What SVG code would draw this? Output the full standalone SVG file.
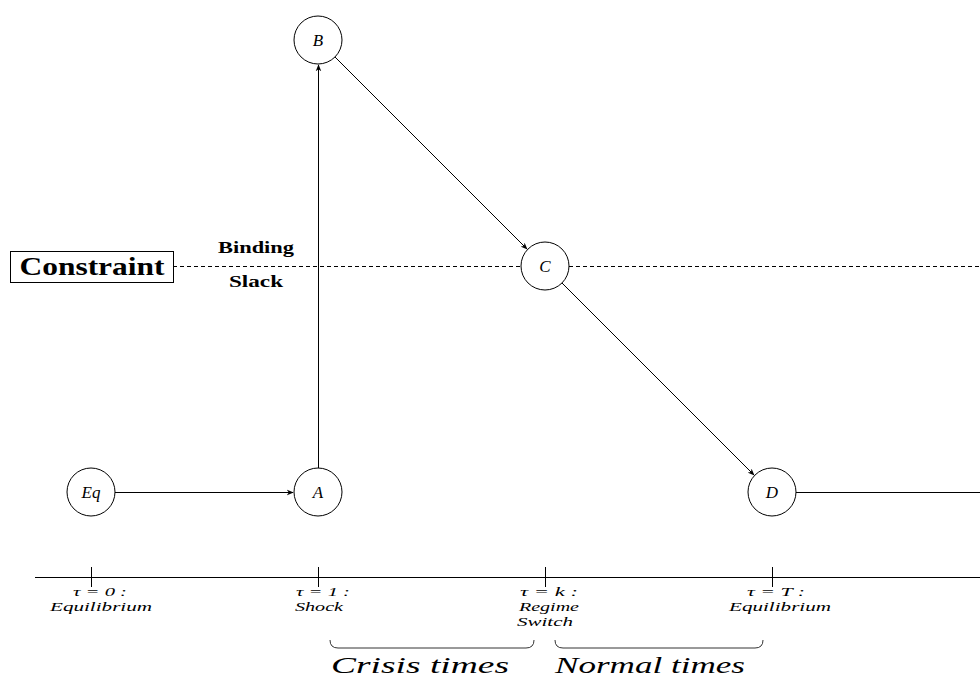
<svg xmlns="http://www.w3.org/2000/svg" width="980" height="679" viewBox="0 0 980 679">
<defs>
<marker id="ah" viewBox="0 0 10 10" refX="9" refY="5" markerWidth="7" markerHeight="7" orient="auto" markerUnits="userSpaceOnUse">
<path d="M0,1 L10,5 L0,9 L3,5 Z" fill="#000"/>
</marker>
</defs>
<style>
.node{fill:#fff;stroke:#000;stroke-width:1}
.nl{font-family:"Liberation Serif",serif;font-style:italic;font-size:17px;text-anchor:middle}
.edge{stroke:#000;stroke-width:1;fill:none}
.tl{font-family:"Liberation Serif",serif;font-style:italic;font-size:13px;text-anchor:middle}
.bold{font-family:"Liberation Serif",serif;font-weight:bold;text-anchor:middle}
.brace{stroke:#000;stroke-width:0.8;fill:none}
.big{font-family:"Liberation Serif",serif;font-style:italic;font-size:24px;text-anchor:middle}
</style>
<rect width="980" height="679" fill="#fff"/>
<g id="constraint">
<line x1="173" y1="266.5" x2="521" y2="266.5" stroke="#000" stroke-width="1" stroke-dasharray="4,3"/>
<line x1="569" y1="266.5" x2="980" y2="266.5" stroke="#000" stroke-width="1" stroke-dasharray="4,3"/>
<rect x="10.5" y="251.5" width="163" height="31" fill="#fff" stroke="#000" stroke-width="1"/>
<text x="92" y="275" class="bold" font-size="25" textLength="145" lengthAdjust="spacingAndGlyphs">Constraint</text>
<text x="256" y="253" class="bold" font-size="16" textLength="76" lengthAdjust="spacingAndGlyphs">Binding</text>
<text x="256" y="287" class="bold" font-size="16" textLength="54" lengthAdjust="spacingAndGlyphs">Slack</text>
</g>
<g id="edges">
<line x1="115" y1="492.5" x2="293" y2="492.5" class="edge" marker-end="url(#ah)"/>
<line x1="318.5" y1="468" x2="318.5" y2="65" class="edge" marker-end="url(#ah)"/>
<line x1="335" y1="57" x2="527" y2="249" class="edge" marker-end="url(#ah)"/>
<line x1="562" y1="283" x2="754" y2="475" class="edge" marker-end="url(#ah)"/>
<line x1="796" y1="492.5" x2="980" y2="492.5" class="edge"/>
</g>
<g id="Eq"><circle cx="91" cy="492" r="24" class="node"/><text x="91" y="498" class="nl">Eq</text></g>
<g id="A"><circle cx="318" cy="492" r="24" class="node"/><text x="318" y="498" class="nl">A</text></g>
<g id="B"><circle cx="318" cy="40" r="24" class="node"/><text x="318" y="46" class="nl">B</text></g>
<g id="C"><circle cx="545" cy="266" r="24" class="node"/><text x="545" y="272" class="nl">C</text></g>
<g id="D"><circle cx="772" cy="492" r="24" class="node"/><text x="772" y="498" class="nl">D</text></g>
<g id="timeline">
<line x1="35" y1="577.5" x2="980" y2="577.5" class="edge"/>
<line x1="91.5" y1="567" x2="91.5" y2="587" class="edge"/>
<line x1="318.5" y1="567" x2="318.5" y2="587" class="edge"/>
<line x1="545.5" y1="567" x2="545.5" y2="587" class="edge"/>
<line x1="772.5" y1="567" x2="772.5" y2="587" class="edge"/>
<text x="100" y="596" class="tl" textLength="54" lengthAdjust="spacingAndGlyphs">τ = 0 :</text>
<text x="101" y="611" class="tl" textLength="102" lengthAdjust="spacingAndGlyphs">Equilibrium</text>
<text x="323" y="596" class="tl" textLength="54" lengthAdjust="spacingAndGlyphs">τ = 1 :</text>
<text x="319" y="611" class="tl" textLength="48" lengthAdjust="spacingAndGlyphs">Shock</text>
<text x="549" y="596" class="tl" textLength="58" lengthAdjust="spacingAndGlyphs">τ = k :</text>
<text x="549" y="611" class="tl" textLength="60" lengthAdjust="spacingAndGlyphs">Regime</text>
<text x="545" y="626" class="tl" textLength="56" lengthAdjust="spacingAndGlyphs">Switch</text>
<text x="776" y="596" class="tl" textLength="58" lengthAdjust="spacingAndGlyphs">τ = T :</text>
<text x="780" y="611" class="tl" textLength="102" lengthAdjust="spacingAndGlyphs">Equilibrium</text>
<path d="M330,640 Q330,648 338,648 L526,648 Q534,648 534,640" class="brace"/>
<path d="M555,640 Q555,648 563,648 L755,648 Q763,648 763,640" class="brace"/>
<text x="420" y="673" class="big" textLength="178" lengthAdjust="spacingAndGlyphs">Crisis times</text>
<text x="650" y="673" class="big" textLength="190" lengthAdjust="spacingAndGlyphs">Normal times</text>
</g>
</svg>
